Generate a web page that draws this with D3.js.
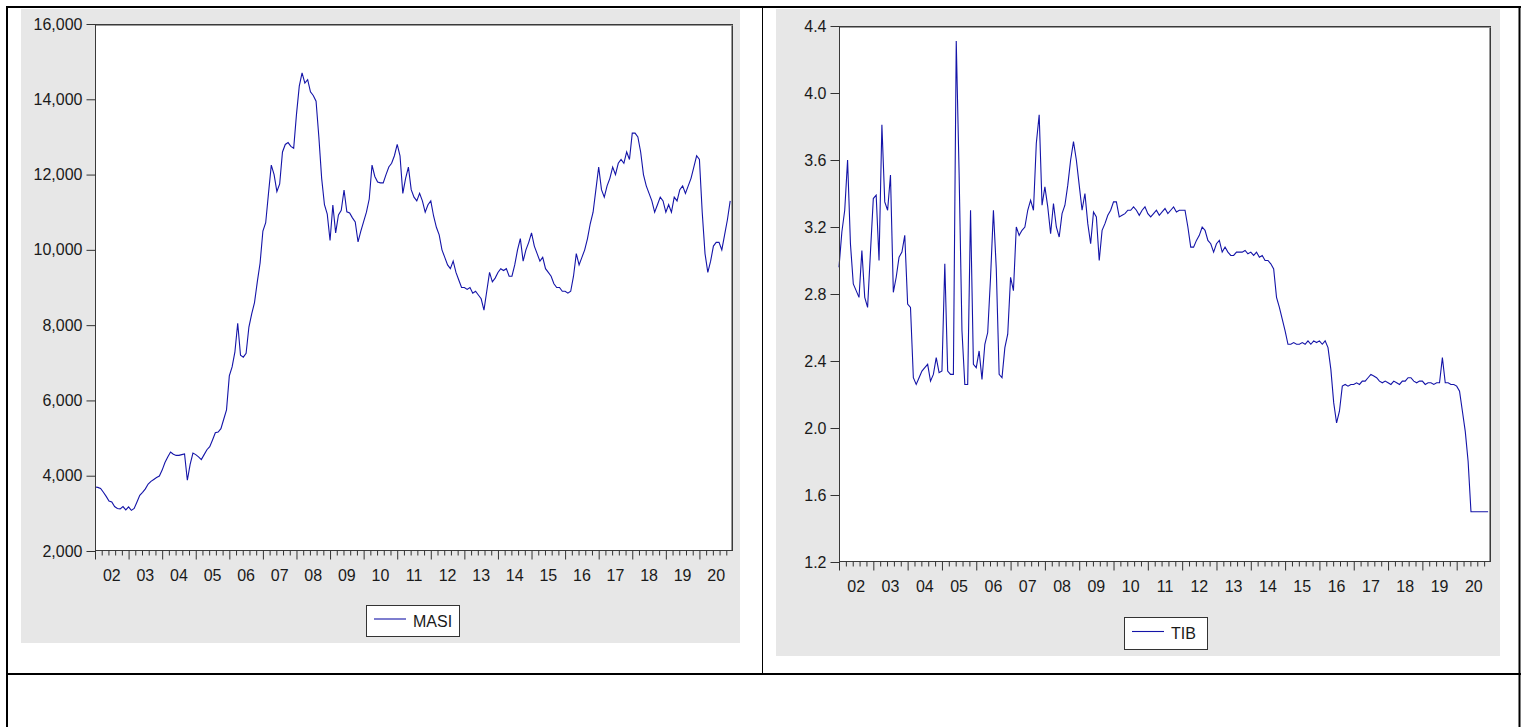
<!DOCTYPE html>
<html>
<head>
<meta charset="utf-8">
<script src="https://cdn.jsdelivr.net/npm/d3@7"></script>
<style>
  html, body { margin: 0; padding: 0; background: #ffffff; }
  svg { display: block; }
  text { font-family: "Liberation Sans", Arial, sans-serif; fill: #1a1a1a; }
</style>
</head>
<body>
<svg id="chart" width="1523" height="727"></svg>
<script>
// ---------------- DATA ----------------
const startYear = 2002;
const yearLabels = ["02","03","04","05","06","07","08","09","10","11","12","13","14","15","16","17","18","19","20"];
const masiTicks = [2000, 4000, 6000, 8000, 10000, 12000, 14000, 16000];
const tibTicks = [1.2, 1.6, 2.0, 2.4, 2.8, 3.2, 3.6, 4.0, 4.4];

// MASI monthly, 2002M01 - 2020M12
const masiValues = [
  3700, 3690, 3660, 3560, 3450, 3330, 3300, 3180, 3130, 3120, 3180, 3090,
  3170, 3080, 3130, 3300, 3480, 3560, 3650, 3780, 3850, 3900, 3950, 3990,
  4150, 4350, 4500, 4630, 4570, 4540, 4540, 4560, 4580, 3880, 4300, 4600,
  4560, 4500, 4430, 4560, 4690, 4770, 4950, 5140, 5160, 5250, 5500, 5750,
  6650, 6890, 7290, 8050, 7200, 7150, 7250, 7950, 8300, 8600, 9150, 9650,
  10500, 10720, 11500, 12250, 12000, 11550, 11750, 12600, 12800, 12850, 12750, 12700,
  13600, 14350, 14700, 14430, 14520, 14200, 14100, 13950, 13000, 11900, 11200, 10950,
  10250, 11190, 10450, 10930, 11050, 11590, 11010, 10980, 10850, 10740, 10210, 10500,
  10750, 11000, 11350, 12250, 11950, 11800, 11780, 11780, 12000, 12200, 12300, 12500,
  12800, 12500, 11500, 11900, 12200, 11600, 11400, 11300, 11500, 11300, 11000, 11200,
  11300, 10900, 10600, 10400, 10000, 9800, 9600, 9500, 9700, 9400, 9200, 9000,
  9000, 8950, 9000, 8850, 8900, 8800, 8700, 8400, 8900, 9400, 9150, 9250,
  9400, 9500, 9450, 9500, 9300, 9300, 9600, 10000, 10300, 9700, 10000, 10200,
  10450, 10100, 9900, 9700, 9800, 9500, 9400, 9300, 9100, 9000, 9000, 8900,
  8900, 8850, 8900, 9300, 9900, 9600, 9800, 10000, 10300, 10700, 11000, 11600,
  12200, 11600, 11400, 11700, 11900, 12200, 12000, 12300, 12400, 12300, 12600, 12400,
  13100, 13100, 13000, 12600, 12000, 11700, 11500, 11300, 11000, 11200, 11400, 11300,
  11000, 11200, 11000, 11400, 11300, 11600, 11700, 11500, 11700, 11900, 12200, 12500,
  12400, 11000, 9900, 9400, 9700, 10100, 10200, 10200, 10000, 10400, 10800, 11300
];

// TIB monthly, 2002M01 - 2020M12
const tibValues = [
  2.96, 3.17, 3.30, 3.60, 3.10, 2.86, 2.82, 2.78, 3.06, 2.78, 2.72, 3.05,
  3.37, 3.39, 3.00, 3.81, 3.35, 3.30, 3.51, 2.81, 2.90, 3.02, 3.05, 3.15,
  2.74, 2.72, 2.30, 2.26, 2.30, 2.34, 2.36, 2.38, 2.28, 2.32, 2.42, 2.33,
  2.34, 2.98, 2.34, 2.32, 2.32, 4.31, 3.52, 2.58, 2.26, 2.26, 3.30, 2.38,
  2.36, 2.46, 2.29, 2.50, 2.57, 2.90, 3.30, 2.95, 2.32, 2.30, 2.48, 2.56,
  2.90, 2.82, 3.20, 3.15, 3.18, 3.20, 3.30, 3.36, 3.30, 3.70, 3.87, 3.33,
  3.44, 3.32, 3.16, 3.34, 3.20, 3.14, 3.28, 3.33, 3.45, 3.60, 3.71, 3.60,
  3.45, 3.30, 3.40, 3.22, 3.10, 3.29, 3.26, 3.00, 3.18, 3.22, 3.27, 3.30,
  3.35, 3.35, 3.26, 3.27, 3.28, 3.30, 3.30, 3.32, 3.30, 3.27, 3.30, 3.32,
  3.28, 3.26, 3.28, 3.30, 3.27, 3.29, 3.31, 3.28, 3.30, 3.32, 3.29, 3.30,
  3.30, 3.30, 3.20, 3.08, 3.08, 3.12, 3.15, 3.20, 3.18, 3.12, 3.10, 3.05,
  3.10, 3.12, 3.05, 3.08, 3.05, 3.03, 3.03, 3.05, 3.05, 3.05, 3.06, 3.04,
  3.05, 3.03, 3.05, 3.02, 3.03, 3.00, 3.00, 2.98, 2.95, 2.78, 2.72, 2.65,
  2.58, 2.50, 2.50, 2.51, 2.50, 2.50, 2.51, 2.50, 2.52, 2.50, 2.52, 2.51,
  2.52, 2.50, 2.52, 2.48, 2.35, 2.15, 2.03, 2.10, 2.25, 2.26, 2.25, 2.26,
  2.26, 2.27, 2.26, 2.28, 2.28, 2.30, 2.32, 2.31, 2.30, 2.28, 2.27, 2.28,
  2.27, 2.26, 2.28, 2.27, 2.26, 2.28, 2.28, 2.30, 2.30, 2.28, 2.27, 2.28,
  2.28, 2.26, 2.27, 2.27, 2.26, 2.27, 2.27, 2.42, 2.27, 2.27, 2.26, 2.26,
  2.25, 2.22, 2.10, 1.98, 1.80, 1.50, 1.50, 1.50, 1.50, 1.50, 1.50, 1.50
];

// ---------------- DRAWING ----------------
const svg = d3.select("#chart");
const lineColor = "#1414a8";
const panelColor = "#e7e7e7";

function drawPanel(cfg) {
  const g = svg.append("g");
  // grey background
  g.append("rect")
    .attr("x", cfg.panel[0]).attr("y", cfg.panel[1])
    .attr("width", cfg.panel[2] - cfg.panel[0]).attr("height", cfg.panel[3] - cfg.panel[1])
    .attr("fill", panelColor);

  const [L, T, R, B] = cfg.plot;
  // white plot area
  g.append("rect")
    .attr("x", L).attr("y", T).attr("width", R - L).attr("height", B - T)
    .attr("fill", "#ffffff");

  const x = d3.scaleLinear().domain([startYear, startYear + yearLabels.length]).range([L, R]);
  const y = d3.scaleLinear().domain(cfg.yDomain).range([B, T]);

  // data line
  const line = d3.line()
    .x((d, i) => x(startYear + i / 12))
    .y(d => y(d));
  g.append("path")
    .datum(cfg.values)
    .attr("d", line)
    .attr("fill", "none")
    .attr("stroke", lineColor)
    .attr("stroke-width", 1.1)
    .attr("stroke-linejoin", "miter");

  // plot frame
  g.append("rect")
    .attr("x", L + 0.5).attr("y", T + 0.5).attr("width", R - L - 1).attr("height", B - T - 1)
    .attr("fill", "none").attr("stroke", "#3a3a3a").attr("stroke-width", 1);
  g.append("line").attr("x1", L + 1).attr("x2", R - 0.5).attr("y1", T + 1.5).attr("y2", T + 1.5)
    .attr("stroke", "#9a9a9a").attr("stroke-width", 1);
  g.append("line").attr("x1", R - 1.5).attr("x2", R - 1.5).attr("y1", T + 1).attr("y2", B - 1)
    .attr("stroke", "#9a9a9a").attr("stroke-width", 1);

  // Y axis
  const yAxis = d3.axisLeft(y)
    .tickValues(cfg.yTicks)
    .tickSize(9)
    .tickPadding(4)
    .tickFormat(cfg.yFormat);
  const ya = g.append("g").attr("transform", `translate(${L + 0.5},0)`).call(yAxis);
  ya.select(".domain").remove();
  ya.selectAll(".tick line").attr("stroke", "#333");
  ya.selectAll(".tick text").style("font-size", "16px").style("font-family", "Liberation Sans, Arial, sans-serif").attr("fill", "#1a1a1a");

  // X axis: major ticks each year, minor ticks at fifths
  const majors = d3.range(startYear, startYear + yearLabels.length);
  const minors = [];
  majors.forEach(yr => { for (let k = 1; k < 5; k++) minors.push(yr + k / 5); });
  const xMajor = d3.axisBottom(x).tickValues(majors).tickSize(9).tickFormat("");
  const xMinor = d3.axisBottom(x).tickValues(minors).tickSize(5).tickFormat("");
  const xa1 = g.append("g").attr("transform", `translate(0,${B - 0.5})`).call(xMajor);
  const xa2 = g.append("g").attr("transform", `translate(0,${B - 0.5})`).call(xMinor);
  xa1.select(".domain").remove(); xa2.select(".domain").remove();
  xa1.selectAll(".tick line").attr("stroke", "#333");
  xa2.selectAll(".tick line").attr("stroke", "#333");

  // year labels centred in each year
  g.selectAll(".ylab")
    .data(yearLabels)
    .enter().append("text")
    .attr("x", (d, i) => x(startYear + i + 0.5))
    .attr("y", B + 30)
    .attr("text-anchor", "middle")
    .style("font-size", "16px")
    .text(d => d);

  // legend
  const [lx, ly, lw, lh] = cfg.legend;
  g.append("rect").attr("x", lx + 0.5).attr("y", ly + 0.5).attr("width", lw).attr("height", lh)
    .attr("fill", "#ffffff").attr("stroke", "#333").attr("stroke-width", 1);
  g.append("line")
    .attr("x1", lx + 8).attr("x2", lx + 40)
    .attr("y1", ly + lh / 2 - 1.5).attr("y2", ly + lh / 2 - 1.5)
    .attr("stroke", lineColor).attr("stroke-width", 1.1);
  g.append("text")
    .attr("x", lx + 47).attr("y", ly + lh / 2 + 6)
    .style("font-size", "16px")
    .text(cfg.name);
}

drawPanel({
  name: "MASI",
  panel: [21, 9, 740, 643],
  plot: [95, 24, 733, 551],
  yDomain: [2000, 16000],
  yTicks: masiTicks,
  yFormat: d3.format(","),
  values: masiValues,
  legend: [366, 605, 93, 31]
});

drawPanel({
  name: "TIB",
  panel: [776, 9, 1500, 656],
  plot: [839, 26, 1491, 562],
  yDomain: [1.2, 4.4],
  yTicks: tibTicks,
  yFormat: d3.format(".1f"),
  values: tibValues,
  legend: [1124, 617, 83, 32]
});

// table borders
const borders = svg.append("g").attr("stroke", "#000");
borders.append("line").attr("x1", 6).attr("x2", 1521).attr("y1", 7).attr("y2", 7).attr("stroke-width", 2);
borders.append("line").attr("x1", 7).attr("x2", 7).attr("y1", 6).attr("y2", 727).attr("stroke-width", 2);
borders.append("line").attr("x1", 1519.5).attr("x2", 1519.5).attr("y1", 6).attr("y2", 727).attr("stroke-width", 2);
borders.append("line").attr("x1", 6).attr("x2", 1521).attr("y1", 674).attr("y2", 674).attr("stroke-width", 2);
borders.append("line").attr("x1", 762.5).attr("x2", 762.5).attr("y1", 7).attr("y2", 674).attr("stroke-width", 1);
</script>
</body>
</html>
